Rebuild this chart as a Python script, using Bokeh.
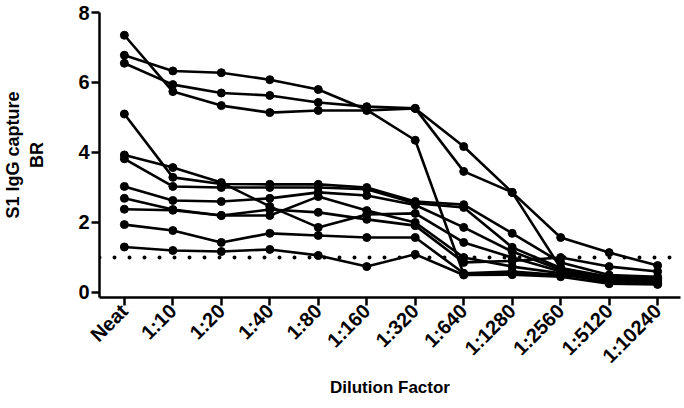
from bokeh.plotting import figure
from bokeh.models import Range1d, Span, FixedTicker
from bokeh.embed import file_html
from bokeh.resources import INLINE
import math

dilutions = ["Neat", "1:10", "1:20", "1:40", "1:80", "1:160", "1:320",
             "1:640", "1:1280", "1:2560", "1:5120", "1:10240"]

sample_t1 = [7.35, 5.74, 5.34, 5.14, 5.20, 5.20, 5.26, 4.17, 2.86, 1.57, 1.14, 0.77]
sample_t2 = [6.78, 6.33, 6.28, 6.08, 5.80, 5.22, 4.35, 0.52, 0.55, 0.50, 0.35, 0.33]
sample_t3 = [6.55, 5.94, 5.70, 5.63, 5.43, 5.31, 5.26, 3.46, 2.86, 0.70, 0.45, 0.40]
sample_m1 = [5.10, 3.29, 3.10, 3.09, 3.09, 3.00, 2.60, 2.51, 1.69, 0.86, 0.50, 0.45]
sample_m2 = [3.93, 3.57, 3.14, 2.46, 1.86, 2.23, 2.26, 1.43, 1.00, 0.60, 0.30, 0.28]
sample_m3 = [3.82, 3.03, 3.00, 3.00, 3.00, 2.95, 2.55, 2.43, 1.29, 0.70, 0.40, 0.35]
sample_m4 = [3.03, 2.63, 2.60, 2.69, 2.86, 2.77, 2.50, 1.86, 1.17, 0.65, 0.35, 0.30]
sample_m5 = [2.69, 2.37, 2.20, 2.20, 2.74, 2.34, 2.00, 1.00, 0.74, 0.55, 0.28, 0.25]
sample_m6 = [2.38, 2.35, 2.20, 2.37, 2.29, 2.09, 1.91, 0.86, 0.90, 1.00, 0.74, 0.60]
sample_m7 = [1.94, 1.77, 1.43, 1.69, 1.63, 1.57, 1.57, 0.55, 0.60, 0.50, 0.45, 0.40]
sample_m8 = [1.30, 1.20, 1.17, 1.23, 1.06, 0.74, 1.09, 0.50, 0.51, 0.45, 0.25, 0.23]

cutoff = 1.0
y_ticks = [0, 2, 4, 6, 8]
x_title = "Dilution Factor"
y_title = "S1 IgG capture\nBR"

series = [sample_t1, sample_t2, sample_t3, sample_m1, sample_m2, sample_m3,
          sample_m4, sample_m5, sample_m6, sample_m7, sample_m8]

xs = list(range(len(dilutions)))

FONT = "Liberation Sans"

p = figure(width=684, height=408,
           x_range=Range1d(-0.513, 11.472), y_range=Range1d(-0.143, 8),
           output_backend="svg", toolbar_location=None,
           min_border_left=96, min_border_right=4, min_border_top=12,
           min_border_bottom=111)

p.outline_line_color = None
p.xgrid.visible = False
p.ygrid.visible = False
p.background_fill_color = "white"
p.border_fill_color = "white"

for s in series:
    p.line(xs, s, line_color="black", line_width=2.6)
    p.scatter(xs, s, size=8, fill_color="black", line_color="black")

p.add_layout(Span(location=cutoff, dimension="width", line_color="black",
                  line_width=4, line_dash="0 15", line_cap="round"))

xa = p.xaxis[0]
xa.ticker = FixedTicker(ticks=xs)
xa.major_label_overrides = {i: lab for i, lab in enumerate(dilutions)}
xa.major_label_orientation = math.pi / 4
xa.minor_tick_line_color = None
xa.major_tick_out = 8
xa.major_tick_in = 0
xa.axis_line_width = 2.5
xa.major_tick_line_width = 2.5
xa.major_label_text_font = FONT
xa.major_label_text_font_style = "bold"
xa.major_label_text_font_size = "20px"
xa.major_label_text_color = "black"
xa.major_label_standoff = 2
xa.axis_label = x_title
xa.axis_label_text_font = FONT
xa.axis_label_text_font_style = "bold"
xa.axis_label_text_font_size = "17px"
xa.axis_label_text_color = "black"
xa.axis_label_standoff = 0

ya = p.yaxis[0]
ya.ticker = FixedTicker(ticks=y_ticks)
ya.minor_tick_line_color = None
ya.major_tick_out = 8
ya.major_tick_in = 0
ya.axis_line_width = 2.5
ya.major_tick_line_width = 2.5
ya.major_label_text_font = FONT
ya.major_label_text_font_style = "bold"
ya.major_label_text_font_size = "20px"
ya.major_label_text_color = "black"
ya.major_label_standoff = 2
ya.axis_label = y_title
ya.axis_label_text_font = FONT
ya.axis_label_text_font_style = "bold"
ya.axis_label_text_font_size = "18px"
ya.axis_label_text_color = "black"
ya.axis_label_standoff = 28

open("out.html", "w").write(file_html(p, INLINE))
